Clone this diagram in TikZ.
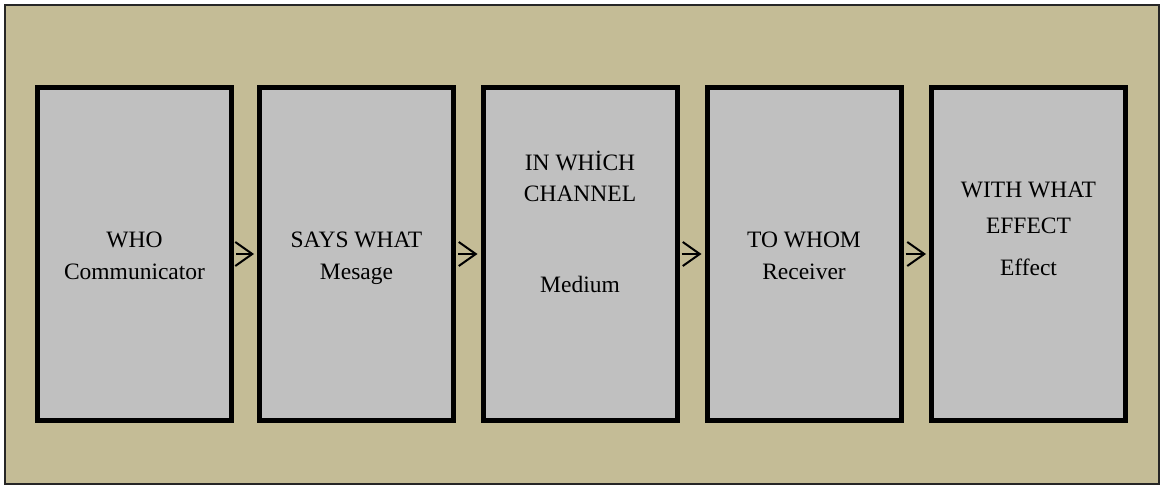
\documentclass[tikz,border=0pt]{standalone}
\usepackage{fontspec}
\setmainfont{Liberation Serif}
\usetikzlibrary{arrows.meta}
\definecolor{panel}{HTML}{C4BC96}
\definecolor{boxfill}{HTML}{C0C0C0}
\begin{document}
\begin{tikzpicture}[x=1pt,y=-1pt,
  stagebox/.style={draw=black,fill=boxfill,line width=5pt,minimum width=194pt,minimum height=333pt,inner sep=0pt},
  lbl/.style={anchor=base,inner sep=0pt,font=\fontsize{23.5}{28}\selectfont},
  link/.style={line width=2pt,shorten >=3pt,shorten <=2pt,-{Straight Barb[length=17pt,width=24pt,line width=2pt]}}]
  \useasboundingbox (0,0) rectangle (1160,486);
  % panel
  \draw[fill=panel,draw=black!85,line width=1.5pt] (5,5) rectangle (1159,484);
  % the five stages
  \node[stagebox] (b1) at (134.5,254) {};
  \node[stagebox] (b2) at (356.5,254) {};
  \node[stagebox] (b3) at (580,254) {};
  \node[stagebox] (b4) at (804,254) {};
  \node[stagebox] (b5) at (1028.5,254) {};
  % connectors
  \draw[link] (b1.east) -- (b2.west);
  \draw[link] (b2.east) -- (b3.west);
  \draw[link] (b3.east) -- (b4.west);
  \draw[link] (b4.east) -- (b5.west);
  % labels
  \node[lbl] (t1a) at (134.5,248) {WHO};
  \node[lbl] (t1b) at (134.5,280) {Communicator};
  \node[lbl] (t2a) at (356.5,248) {SAYS WHAT};
  \node[lbl] (t2b) at (356.5,280) {Mesage};
  \node[lbl] (t3a) at (580,171) {IN WHİCH};
  \node[lbl] (t3b) at (580,202) {CHANNEL};
  \node[lbl] (t3c) at (580,293) {Medium};
  \node[lbl] (t4a) at (804,248) {TO WHOM};
  \node[lbl] (t4b) at (804,280) {Receiver};
  \node[lbl] (t5a) at (1028.5,198) {WITH WHAT};
  \node[lbl] (t5b) at (1028.5,234) {EFFECT};
  \node[lbl] (t5c) at (1028.5,276) {Effect};
\end{tikzpicture}
\end{document}
